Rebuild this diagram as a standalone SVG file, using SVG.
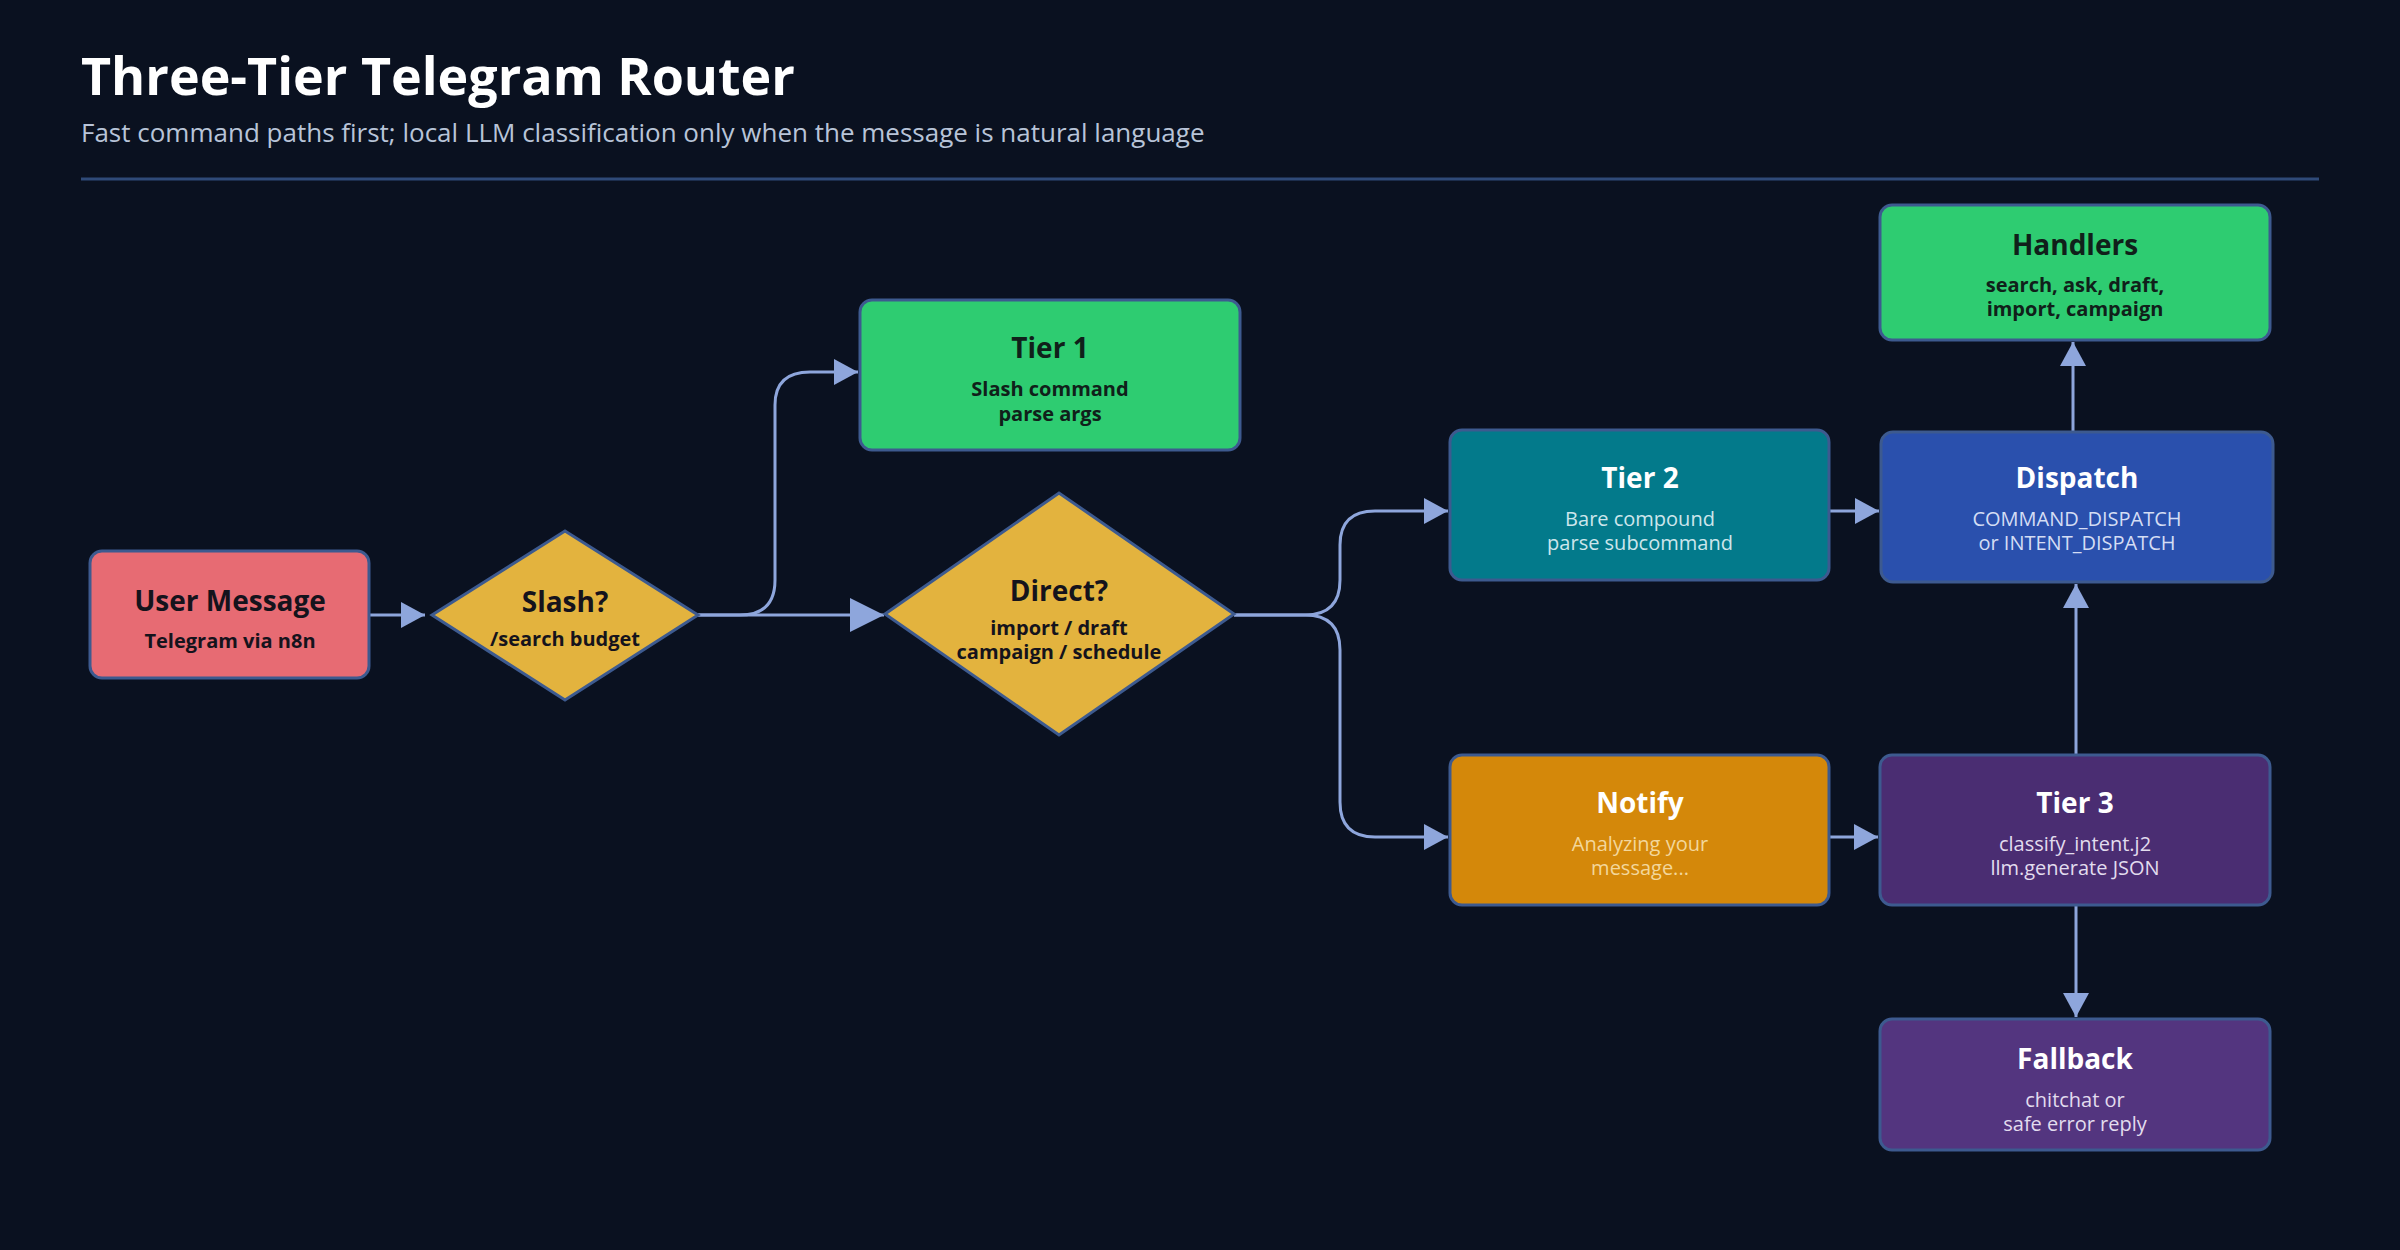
<svg xmlns="http://www.w3.org/2000/svg" width="2400" height="1250" viewBox="0 0 2400 1250">
<defs>
<style>
.t{font-family:"Open Sans","Noto Sans",sans-serif;text-anchor:middle}
.h{font-size:28px;font-weight:700}
.s{font-size:20px}
.b{font-weight:700}
.n{stroke:#3d5a8f;stroke-width:3}
.c{fill:none;stroke:#8ea6dc;stroke-width:3}
</style>
<marker id="a" markerUnits="userSpaceOnUse" markerWidth="26" markerHeight="26" refX="24" refY="13" orient="auto"><path d="M0,0 L24,13 L0,26 Z" fill="#8ea6dc"/></marker>
<marker id="a2" markerUnits="userSpaceOnUse" markerWidth="36" markerHeight="36" refX="34" refY="17" orient="auto"><path d="M0,0 L34,17 L0,34 Z" fill="#8ea6dc"/></marker>
</defs>
<rect width="2400" height="1250" fill="#0a1120"/>
<text x="81" y="95" font-family="Open Sans,Noto Sans,sans-serif" font-size="52" font-weight="700" fill="#ffffff">Three-Tier Telegram Router</text>
<text x="81" y="142" font-family="Open Sans,Noto Sans,sans-serif" font-size="26" fill="#b8c4d8">Fast command paths first; local LLM classification only when the message is natural language</text>
<line x1="81" y1="179" x2="2319" y2="179" stroke="#2f4a78" stroke-width="3"/>
<g id="connectors">
<path class="c" d="M369,615 L425,615" marker-end="url(#a)"/>
<path class="c" d="M698,615 L740,615 Q775,615 775,580 L775,405 Q775,372 810,372 L858,372" marker-end="url(#a)"/>
<path class="c" d="M698,615 L884,615" marker-end="url(#a2)"/>
<path class="c" d="M1234,615 L1305,615 Q1340,615 1340,580 L1340,545 Q1340,511 1375,511 L1448,511" marker-end="url(#a)"/>
<path class="c" d="M1234,615 L1305,615 Q1340,615 1340,650 L1340,802 Q1340,837 1375,837 L1448,837" marker-end="url(#a)"/>
<path class="c" d="M1829,511 L1879,511" marker-end="url(#a)"/>
<path class="c" d="M1829,837 L1878,837" marker-end="url(#a)"/>
<path class="c" d="M2076,755 L2076,584" marker-end="url(#a)"/>
<path class="c" d="M2073,432 L2073,342" marker-end="url(#a)"/>
<path class="c" d="M2076,905 L2076,1017" marker-end="url(#a)"/>
</g>
<g id="user">
<rect class="n" x="90" y="551" width="279" height="127" rx="12" fill="#e76b73"/>
<text class="t h" x="230" y="611" fill="#15131c">User Message</text>
<text class="t s b" x="230" y="648" fill="#15131c">Telegram via n8n</text>
</g>
<g id="slash">
<polygon class="n" points="432,615 565,531 698,615 565,700" fill="#e3b33e"/>
<text class="t h" x="565" y="612" fill="#15131c">Slash?</text>
<text class="t s b" x="565" y="646" fill="#15131c">/search budget</text>
</g>
<g id="tier1">
<rect class="n" x="860" y="300" width="380" height="150" rx="12" fill="#2ecc71"/>
<text class="t h" x="1050" y="358" fill="#10201a">Tier 1</text>
<text class="t s b" x="1050" y="396" fill="#10201a">Slash command</text>
<text class="t s b" x="1050" y="421" fill="#10201a">parse args</text>
</g>
<g id="direct">
<polygon class="n" points="885,614 1059,493 1234,614 1059,735" fill="#e3b33e"/>
<text class="t h" x="1059" y="601" fill="#15131c">Direct?</text>
<text class="t s b" x="1059" y="635" fill="#15131c">import / draft</text>
<text class="t s b" x="1059" y="659" fill="#15131c">campaign / schedule</text>
</g>
<g id="tier2">
<rect class="n" x="1450" y="430" width="379" height="150" rx="12" fill="#037a8b"/>
<text class="t h" x="1640" y="488" fill="#ffffff">Tier 2</text>
<text class="t s" x="1640" y="526" fill="#cde6ec">Bare compound</text>
<text class="t s" x="1640" y="550" fill="#cde6ec">parse subcommand</text>
</g>
<g id="dispatch">
<rect class="n" x="1881" y="432" width="392" height="150" rx="12" fill="#2a50ad"/>
<text class="t h" x="2077" y="488" fill="#ffffff">Dispatch</text>
<text class="t s" x="2077" y="526" fill="#d4ddf4">COMMAND_DISPATCH</text>
<text class="t s" x="2077" y="550" fill="#d4ddf4">or INTENT_DISPATCH</text>
</g>
<g id="handlers">
<rect class="n" x="1880" y="205" width="390" height="135" rx="12" fill="#2ecc71"/>
<text class="t h" x="2075" y="255" fill="#10201a">Handlers</text>
<text class="t s b" x="2075" y="292" fill="#10201a">search, ask, draft,</text>
<text class="t s b" x="2075" y="316" fill="#10201a">import, campaign</text>
</g>
<g id="notify">
<rect class="n" x="1450" y="755" width="379" height="150" rx="12" fill="#d4880a"/>
<text class="t h" x="1640" y="813" fill="#ffffff">Notify</text>
<text class="t s" x="1640" y="851" fill="#f3d79c">Analyzing your</text>
<text class="t s" x="1640" y="875" fill="#f3d79c">message...</text>
</g>
<g id="tier3">
<rect class="n" x="1880" y="755" width="390" height="150" rx="12" fill="#4a2d72"/>
<text class="t h" x="2075" y="813" fill="#ffffff">Tier 3</text>
<text class="t s" x="2075" y="851" fill="#e2dcee">classify_intent.j2</text>
<text class="t s" x="2075" y="875" fill="#e2dcee">llm.generate JSON</text>
</g>
<g id="fallback">
<rect class="n" x="1880" y="1019" width="390" height="131" rx="12" fill="#53357f"/>
<text class="t h" x="2075" y="1069" fill="#ffffff">Fallback</text>
<text class="t s" x="2075" y="1107" fill="#e2dcee">chitchat or</text>
<text class="t s" x="2075" y="1131" fill="#e2dcee">safe error reply</text>
</g>
</svg>
